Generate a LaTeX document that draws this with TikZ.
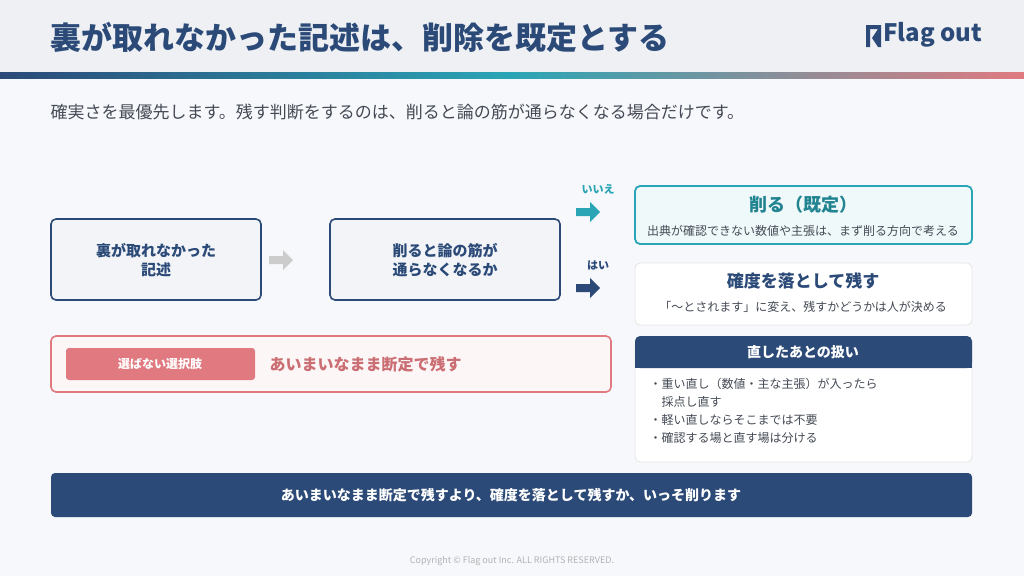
\documentclass[tikz,border=0pt]{standalone}
\usepackage{fontspec}
\setmainfont{Noto Sans CJK JP}
\setsansfont{Noto Sans CJK JP}
\usetikzlibrary{positioning}
\definecolor{navy}{HTML}{2B4A78}
\definecolor{teal}{HTML}{2AA5B5}
\definecolor{pinkc}{HTML}{E07A80}
\definecolor{bglight}{HTML}{F7F8FB}
\definecolor{headbg}{HTML}{EEF0F4}
\definecolor{txt}{HTML}{444A55}
\tikzset{
  box/.style={draw=navy,line width=1.6pt,rounded corners=5pt,fill=navy!6},
  card/.style={draw=black!10,line width=0.8pt,rounded corners=5pt,fill=white},
  lbl/.style={font=\fontsize{#1}{#1}\selectfont\bfseries,align=center},
  fat/.pic={\fill (-12,-4) -- (2,-4) -- (2,-10) -- (12,0) -- (2,10) -- (2,4) -- (-12,4) -- cycle;},
}
\begin{document}
\begin{tikzpicture}[x=1pt,y=-1pt]
\useasboundingbox[fill=bglight] (0,0) rectangle (1024,576);
% header
\fill[headbg] (0,0) rectangle (1024,72);
\shade[left color=navy,right color=teal] (0,72) rectangle (512,78);
\shade[left color=teal,right color=pinkc] (512,72) rectangle (1024,78);
\node[anchor=west,text=navy,lbl=31] (title) at (47,37) {裏が取れなかった記述は、削除を既定とする};
\fill[navy] (866,25) -- (866,47) -- (870,47) -- (870,29) -- (878,29) -- (872,38) -- (878,47) -- (881,47) -- (881,25) -- cycle;
\node[anchor=west,text=navy,font=\fontsize{24}{24}\selectfont\bfseries\sffamily,inner sep=0] (logo) at (883,35) {Flag out};
\node[anchor=west,text=txt,font=\fontsize{17}{17}\selectfont] (lead) at (47,112)
  {確実さを最優先します。残す判断をするのは、削ると論の筋が通らなくなる場合だけです。};
% flow
\draw[box] (51,219) rectangle (261,300);
\node[lbl=15,text=navy] (src) at (156,260) {裏が取れなかった\\[4pt]記述};
\pic[black!20] at (281,260) {fat};
\draw[box] (330,219) rectangle (560,300);
\node[lbl=15,text=navy] (q) at (445,260) {削ると論の筋が\\[4pt]通らなくなるか};
\pic[teal] at (588,212) {fat};
\node[lbl=11,text=teal] at (598,189) {いいえ};
\pic[navy] at (588,288) {fat};
\node[lbl=11,text=navy] at (598,265) {はい};
% results
\draw[draw=teal,line width=1.8pt,rounded corners=5pt,fill=teal!7] (635,186) rectangle (972,244);
\node[lbl=18,text=teal!80!black] (del) at (803,205) {削る（既定）};
\node[font=\fontsize{12}{12}\selectfont,text=txt] at (803,231) {出典が確認できない数値や主張は、まず削る方向で考える};
\draw[card] (635,263) rectangle (972,325);
\node[lbl=17,text=navy] (keep) at (803,281) {確度を落として残す};
\node[font=\fontsize{12}{12}\selectfont,text=txt] at (803,307) {「〜とされます」に変え、残すかどうかは人が決める};
\draw[card] (635,340) rectangle (972,462);
\fill[navy,rounded corners=5pt] (635,336) rectangle (972,368);
\fill[navy] (635,360) rectangle (972,368);
\node[lbl=14,text=white] (after) at (803,352) {直したあとの扱い};
\node[anchor=north west,align=left,text=txt,font=\fontsize{12}{18}\selectfont] (list) at (646,375)
  {・重い直し（数値・主な主張）が入ったら\\\hspace{1em}採点し直す\\・軽い直しならそこまでは不要\\・確認する場と直す場は分ける};
% rejected option
\draw[draw=pinkc,line width=1.6pt,rounded corners=5pt,fill=pinkc!7] (51,336) rectangle (611,392);
\fill[pinkc,rounded corners=3pt] (66,348) rectangle (255,380);
\node[lbl=12,text=white] (tag) at (160,364) {選ばない選択肢};
\node[anchor=west,lbl=16,text=pinkc!90!black] (bad) at (266,364) {あいまいなまま断定で残す};
% summary
\fill[navy,rounded corners=4pt] (51,473) rectangle (972,517);
\node[lbl=14,text=white] (sum) at (511,495) {あいまいなまま断定で残すより、確度を落として残すか、いっそ削ります};
\node[text=black!30,font=\fontsize{9}{9}\selectfont\sffamily] (copy) at (512,561) {Copyright © Flag out Inc. ALL RIGHTS RESERVED.};
\end{tikzpicture}
\end{document}
